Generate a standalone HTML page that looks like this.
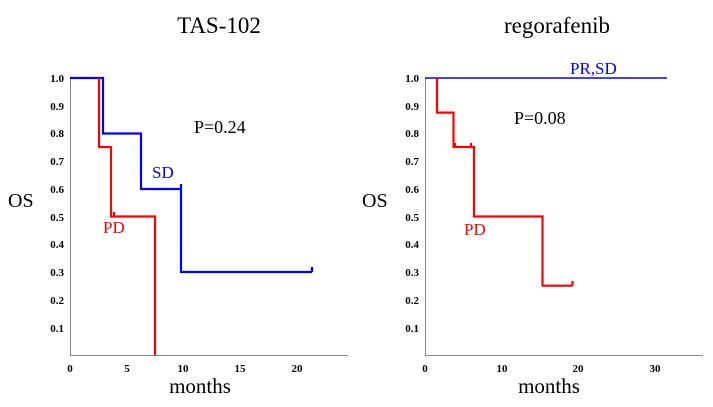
<!DOCTYPE html><html><head><style>body{margin:0;background:#fff}svg{display:block}</style></head><body>
<svg width="713" height="407" xmlns="http://www.w3.org/2000/svg" font-family="Liberation Serif, serif">
<text x="219" y="33" font-size="23" text-anchor="middle">TAS-102</text>
<text x="557" y="33" font-size="23" text-anchor="middle">regorafenib</text>
<text x="8" y="207" font-size="20">OS</text>
<text x="362" y="207" font-size="20">OS</text>
<text x="200" y="393" font-size="21" text-anchor="middle">months</text>
<text x="549" y="393" font-size="21" text-anchor="middle">months</text>
<g stroke="#888" stroke-width="1" fill="none">
<path d="M70.5 78V355.5H348"/>
<path d="M425.5 78V355.5H703"/>
</g>
<g font-size="11" font-weight="bold" text-anchor="end">
<text x="64" y="82">1.0</text><text x="64" y="110">0.9</text><text x="64" y="137">0.8</text><text x="64" y="165">0.7</text><text x="64" y="193">0.6</text><text x="64" y="221">0.5</text><text x="64" y="248">0.4</text><text x="64" y="276">0.3</text><text x="64" y="304">0.2</text><text x="64" y="332">0.1</text>
<text x="419" y="82">1.0</text><text x="419" y="110">0.9</text><text x="419" y="137">0.8</text><text x="419" y="165">0.7</text><text x="419" y="193">0.6</text><text x="419" y="221">0.5</text><text x="419" y="248">0.4</text><text x="419" y="276">0.3</text><text x="419" y="304">0.2</text><text x="419" y="332">0.1</text>
</g>
<g font-size="11" font-weight="bold" text-anchor="middle">
<text x="70" y="372">0</text><text x="127" y="372">5</text><text x="183" y="372">10</text><text x="240" y="372">15</text><text x="297" y="372">20</text>
<text x="425" y="372">0</text><text x="502" y="372">10</text><text x="578" y="372">20</text><text x="655" y="372">30</text>
</g>
<g fill="none" stroke-width="2.2">
<path stroke="#00f" d="M70 78H103V133.5H141V189H181V272H312M181 189V184M312 272V267"/>
<path stroke="#f00" d="M99 78V147H111V216.5H155V355M114 216.5V212"/>
<path stroke="#00f" stroke-width="1.6" d="M425 78H667"/>
<path stroke="#f00" d="M437 78V112.6H453.5V147H474V216.5H542.5V285.7H572.5M455 147V143M471 147V143M572.5 285.7V281"/>
</g>
<text x="194" y="133" font-size="18">P=0.24</text>
<text x="514" y="124" font-size="18">P=0.08</text>
<text x="152" y="178" font-size="17" fill="#00f">SD</text>
<text x="103" y="233" font-size="17" fill="#f00">PD</text>
<text x="570" y="74" font-size="17" fill="#00f">PR,SD</text>
<text x="464" y="235" font-size="17" fill="#f00">PD</text>
</svg></body></html>
